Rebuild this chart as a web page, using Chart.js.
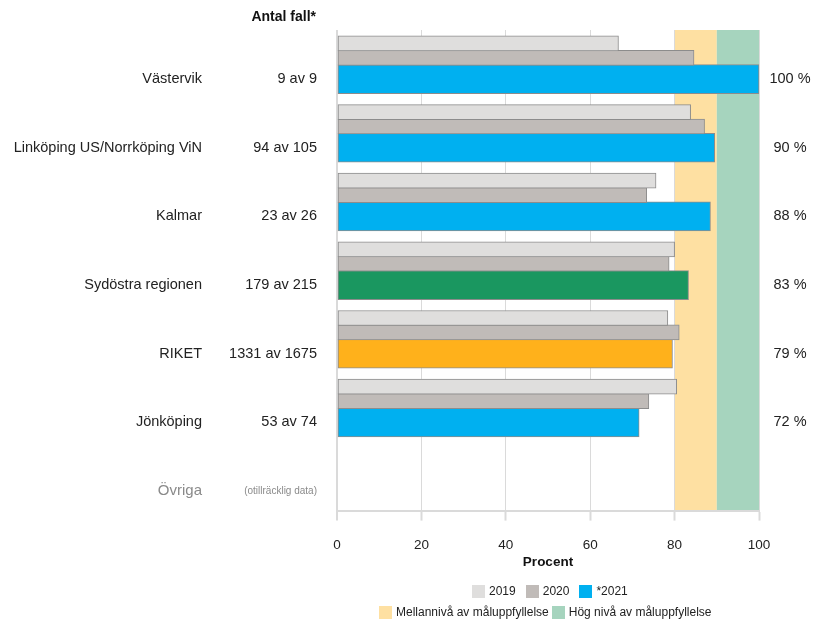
<!DOCTYPE html>
<html>
<head>
<meta charset="utf-8">
<script src="https://cdn.jsdelivr.net/npm/chart.js@4/dist/chart.umd.min.js"></script>
<style>
  body { margin: 0; background: #fff; font-family: "Liberation Sans", Arial, sans-serif; }
  #wrap { position: relative; width: 813px; height: 621px; }
  .legend-row { position: absolute; display: flex; align-items: center; font-size: 12px; color: #222; white-space: nowrap; }
  .legend-row .box { width: 13px; height: 13px; margin-right: 4px; }
</style>
</head>
<body>
<div id="wrap">
  <canvas id="myChart" width="813" height="621"></canvas>
  <div class="legend-row" id="yearLegend" style="left:472px; top:584px;"></div>
  <div class="legend-row" id="levelLegend" style="left:379px; top:605px;"></div>
</div>
<script>
const categories = ['Västervik', 'Linköping US/Norrköping ViN', 'Kalmar', 'Sydöstra regionen', 'RIKET', 'Jönköping', 'Övriga'];
const caseCounts = ['9 av 9', '94 av 105', '23 av 26', '179 av 215', '1331 av 1675', '53 av 74', '(otillräcklig data)'];
const years = ['2019', '2020', '*2021'];
const values2019 = [66.7, 83.8, 75.6, 80.0, 78.4, 80.5, null];
const values2020 = [84.6, 87.1, 73.4, 78.7, 81.1, 73.9, null];
const values2021 = [100, 89.5, 88.5, 83.3, 79.5, 71.6, null];
const valueLabels = ['100 %', '90 %', '88 %', '83 %', '79 %', '72 %', ''];
const xTicks = [0, 20, 40, 60, 80, 100];
const levelNames = ['Mellannivå av måluppfyllelse', 'Hög nivå av måluppfyllelse'];
const levelFrom = [80, 90];
const levelTo = [90, 100];

// styling
const yearColors = ['#dfdedd', '#c0bbb8', '#00b0f0'];
const levelColors = ['#fee0a2', '#a6d4be'];
const specialColors = { 'Sydöstra regionen': '#1a9760', 'RIKET': '#ffb11b' };
const slotOffset = [0.195, 0.405, 0.715];   // position of each year's bar inside a row
const slotThickness = [15, 15, 29];
const font = '"Liberation Sans", Arial, sans-serif';

function rows(values, slot) {
    const out = [];
    values.forEach((v, i) => {
        if (v !== null) out.push({ x: v, y: i + slotOffset[slot] });
    });
    return out;
}

const datasets = [values2019, values2020, values2021].map((vals, s) => ({
    label: years[s],
    data: rows(vals, s),
    backgroundColor: s === 2
        ? categories.filter((c, i) => vals[i] !== null).map(c => specialColors[c] || yearColors[2])
        : yearColors[s],
    borderColor: '#8c8c8c',
    borderWidth: 1,
    borderSkipped: false,
    barThickness: slotThickness[s],
    grouped: false
}));

const bandsPlugin = {
    id: 'bands',
    beforeDraw(chart) {
        const { ctx, chartArea } = chart;
        const x = chart.scales.x;
        ctx.save();
        levelFrom.forEach((from, i) => {
            const x0 = x.getPixelForValue(from);
            const x1 = x.getPixelForValue(levelTo[i]);
            ctx.fillStyle = levelColors[i];
            ctx.fillRect(x0, chartArea.top, x1 - x0, chartArea.bottom - chartArea.top);
        });
        ctx.restore();
    }
};

const labelsPlugin = {
    id: 'rowLabels',
    afterDraw(chart) {
        const { ctx } = chart;
        const y = chart.scales.y;
        ctx.save();
        ctx.textBaseline = 'middle';
        ctx.fillStyle = '#111';
        ctx.font = 'bold 14px ' + font;
        ctx.textAlign = 'right';
        ctx.fillText('Antal fall*', 316, 17);
        categories.forEach((c, i) => {
            const py = y.getPixelForValue(i + slotOffset[2]);
            const missing = values2021[i] === null;
            ctx.textAlign = 'right';
            ctx.fillStyle = missing ? '#8a8a8a' : '#222';
            ctx.font = (missing ? '15px ' : '14.5px ') + font;
            ctx.fillText(c, 202, py);
            ctx.font = (missing ? '10px ' : '14.5px ') + font;
            ctx.fillText(caseCounts[i], 317, py);
            ctx.textAlign = 'center';
            ctx.fillStyle = '#222';
            ctx.font = '14.5px ' + font;
            ctx.fillText(valueLabels[i], 790, py);
        });
        ctx.restore();
    }
};

const ctx = document.getElementById('myChart').getContext('2d');
const chart = new Chart(ctx, {
    type: 'bar',
    data: { datasets },
    plugins: [bandsPlugin, labelsPlugin],
    options: {
        indexAxis: 'y',
        responsive: false,
        animation: false,
        layout: { padding: { left: 337, right: 54, top: 30, bottom: 51 } },
        plugins: { legend: { display: false }, tooltip: { enabled: false } },
        scales: {
            y: {
                type: 'linear',
                min: 0,
                max: categories.length,
                reverse: true,
                offset: false,
                display: false
            },
            x: {
                type: 'linear',
                min: xTicks[0],
                max: xTicks[xTicks.length - 1],
                afterBuildTicks: axis => { axis.ticks = xTicks.map(v => ({ value: v })); },
                grid: {
                    color: '#dadada',
                    lineWidth: c => (c.tick && c.tick.value === 0 ? 2 : 1),
                    tickLength: 10,
                    tickColor: '#dadada',
                    tickWidth: 2
                },
                border: { display: true, color: '#dadada', width: 2 },
                ticks: { color: '#222', padding: 17, font: { family: font, size: 13.5 } },
                title: {
                    display: true,
                    text: 'Procent',
                    color: '#111',
                    padding: { top: -17, bottom: 0 },
                    font: { family: font, size: 13.5, weight: 'bold' }
                }
            }
        }
    }
});

function legendItem(row, color, text, gap) {
    const item = document.createElement('div');
    item.style.display = 'flex';
    item.style.alignItems = 'center';
    item.style.marginRight = gap + 'px';
    const box = document.createElement('div');
    box.className = 'box';
    box.style.background = color;
    const label = document.createElement('span');
    label.textContent = text;
    item.appendChild(box);
    item.appendChild(label);
    row.appendChild(item);
}
const yearRow = document.getElementById('yearLegend');
years.forEach((y, i) => legendItem(yearRow, yearColors[i], y, 10));
const levelRow = document.getElementById('levelLegend');
levelNames.forEach((n, i) => legendItem(levelRow, levelColors[i], n, 3));
</script>
</body>
</html>
